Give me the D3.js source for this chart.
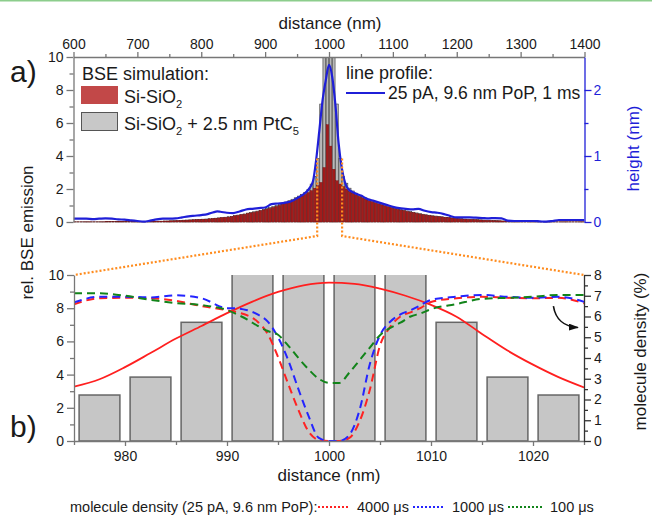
<!DOCTYPE html>
<html>
<head>
<meta charset="utf-8">
<script src="https://cdn.jsdelivr.net/npm/d3@7"></script>
<style>
  html, body { margin: 0; padding: 0; background: #fff; }
  svg { display: block; }
</style>
</head>
<body>
<svg id="chart" width="652" height="517"></svg>
<script>
// ---------- data ----------
// BSE simulation, 5 nm bins from 600 to 1400 nm (bin centres 602.5 ... 1397.5)
const binStart = 600, binEnd = 1400, binStep = 5;

// relative BSE emission, Si-SiO2
const bseSiO2 = [
  0.01,0.01,0.01,0.01,0.01,0.01,0.01,0.01,0.01,0.01,
  0.02,0.02,0.02,0.02,0.02,0.02,0.02,0.02,0.03,0.03,
  0.03,0.03,0.03,0.04,0.04,0.04,0.05,0.05,0.06,0.06,
  0.07,0.07,0.08,0.09,0.10,0.11,0.12,0.13,0.14,0.15,
  0.16,0.17,0.19,0.20,0.22,0.24,0.26,0.28,0.30,0.32,
  0.37,0.40,0.44,0.47,0.51,0.55,0.59,0.63,0.68,0.73,
  0.78,0.83,0.89,0.95,1.01,1.08,1.15,1.23,1.31,1.40,
  1.49,1.58,1.68,1.79,1.90,2.05,2.20,2.40,3.30,5.90,
  4.60,3.20,2.50,2.30,2.15,2.00,1.85,1.75,1.65,1.55,
  1.47,1.39,1.31,1.24,1.17,1.10,1.04,0.98,0.92,0.87,
  0.82,0.77,0.72,0.68,0.64,0.60,0.56,0.52,0.48,0.45,
  0.42,0.39,0.36,0.34,0.32,0.30,0.28,0.26,0.24,0.22,
  0.20,0.19,0.17,0.16,0.15,0.14,0.13,0.12,0.11,0.10,
  0.09,0.08,0.07,0.07,0.06,0.05,0.05,0.04,0.04,0.03,
  0.03,0.03,0.03,0.02,0.02,0.02,0.02,0.02,0.02,0.02,
  0.01,0.01,0.01,0.01,0.01,0.01,0.01,0.01,0.01,0.01
];

// relative BSE emission, Si-SiO2 + 2.5 nm PtC5
const bsePtC = [
  0.01,0.01,0.01,0.01,0.01,0.01,0.01,0.01,0.01,0.01,
  0.02,0.02,0.02,0.02,0.02,0.02,0.02,0.02,0.03,0.03,
  0.03,0.03,0.03,0.04,0.04,0.04,0.05,0.05,0.06,0.06,
  0.07,0.08,0.09,0.10,0.11,0.12,0.13,0.14,0.15,0.16,
  0.17,0.18,0.20,0.21,0.23,0.25,0.27,0.29,0.32,0.34,
  0.39,0.42,0.46,0.49,0.54,0.58,0.62,0.66,0.71,0.77,
  0.82,0.87,0.93,1.00,1.06,1.13,1.21,1.29,1.38,1.47,
  1.57,1.68,1.80,1.98,2.30,2.77,3.85,7.15,15.0,22.0,
  22.0,15.0,7.15,3.85,2.77,2.35,2.05,1.88,1.75,1.63,
  1.54,1.46,1.38,1.30,1.23,1.16,1.09,1.03,0.97,0.91,
  0.86,0.81,0.76,0.71,0.67,0.63,0.59,0.55,0.51,0.47,
  0.44,0.41,0.38,0.36,0.34,0.32,0.29,0.27,0.25,0.23,
  0.21,0.20,0.18,0.17,0.16,0.15,0.14,0.13,0.12,0.11,
  0.10,0.09,0.08,0.07,0.06,0.06,0.05,0.05,0.04,0.04,
  0.03,0.03,0.03,0.03,0.02,0.02,0.02,0.02,0.02,0.02,
  0.01,0.01,0.01,0.01,0.01,0.01,0.01,0.01,0.01,0.01
];

// measured line profile (25 pA, 9.6 nm PoP, 1 ms): distance (nm) / height (nm)
const profileX = [600,610,620,630,640,650,660,670,680,690,700,710,720,730,740,750,760,770,780,790,
  800,810,820,825,830,840,850,860,870,880,890,900,910,920,930,940,950,960,965,970,
  975,980,985,990,995,1000,1005,1010,1015,1020,1025,1030,1040,1050,1060,1070,1080,1090,1100,1110,
  1120,1130,1140,1150,1160,1170,1180,1190,1200,1210,1220,1230,1240,1250,1260,1270,1280,1290,1300,1310,
  1320,1330,1340,1350,1360,1370,1380,1390,1400];
const profileH = [0.05,0.05,0.05,0.045,0.05,0.055,0.05,0.04,0.035,0.025,0.015,0.005,0.02,0.04,0.05,0.05,0.055,0.07,0.085,0.095,
  0.105,0.12,0.15,0.16,0.155,0.14,0.135,0.16,0.19,0.2,0.21,0.22,0.27,0.28,0.29,0.31,0.36,0.42,0.46,0.52,
  0.62,0.95,1.4,1.85,2.15,2.38,2.2,1.78,1.2,0.82,0.6,0.5,0.44,0.4,0.35,0.32,0.29,0.26,0.23,0.21,
  0.2,0.19,0.2,0.17,0.15,0.14,0.12,0.09,0.07,0.07,0.07,0.065,0.06,0.055,0.06,0.055,0.02,0.015,0.015,0.015,
  0.015,0.01,0.005,0.015,0.03,0.03,0.03,0.03,0.03];

// beam profile in the zoomed window (rel. BSE emission axis)
const beamX = [975,977.5,980,982.5,985,987.5,990,992.5,995,997.5,1000,1002.5,1005,1007.5,1010,1012.5,1015,1017.5,1020,1022.5,1025];
const beamY = [3.27,3.72,4.45,5.3,6.17,6.93,7.7,8.4,8.98,9.38,9.54,9.47,9.18,8.75,8.2,7.49,6.45,5.45,4.6,3.85,3.23];

// molecule density (%) for three dwell times
const densityX = [975,977.5,980,982.5,985,987.5,990,991,992,993,994,995,996,997,998,999,1000,
  1001,1002,1003,1004,1005,1006,1007,1008,1009,1010,1012.5,1015,1017.5,1020,1022.5,1025];
const density4000 = [6.59,6.88,6.9,6.88,6.75,6.5,6.3,6.2,6.05,5.75,5.15,4.05,2.75,1.5,0.45,0.05,0,
  0,0.15,0.95,2.46,4.6,5.5,6.0,6.2,6.42,6.7,6.88,6.95,6.9,6.88,6.9,6.64];
const density1000 = [6.68,6.95,6.95,6.92,7.02,6.88,6.4,6.39,6.3,6.1,5.75,5.0,3.9,2.5,1.2,0.15,0,
  0,0.3,1.5,3.7,5.1,5.75,6.1,6.3,6.55,6.8,6.95,7.04,6.95,6.9,6.95,6.71];
const density100 = [7.12,7.12,7.0,6.8,6.65,6.55,6.31,6.1,5.85,5.55,5.3,5.12,4.6,4.0,3.45,3.0,2.8,
  2.8,3.3,3.9,4.5,5.1,5.45,5.7,6.0,6.15,6.35,6.6,6.85,6.9,6.95,7.04,7.04];

const densityLabels = ["4000 \u03bcs", "1000 \u03bcs", "100 \u03bcs"];

// tick values
const topTicksMajor = [600,700,800,900,1000,1100,1200,1300,1400];
const topTicksMinor = [650,750,850,950,1050,1150,1250,1350];
const bseTicksMajor = [0,2,4,6,8,10];
const bseTicksMinor = [1,3,5,7,9];
const heightTicksMajor = [0,1,2];
const heightTicksMinor = [0.5,1.5];
const zoomTicksMajor = [980,990,1000,1010,1020];
const zoomTicksMinor = [975,985,995,1005,1015,1025];
const densTicksMajor = [0,1,2,3,4,5,6,7,8];
const densTicksMinor = [0.5,1.5,2.5,3.5,4.5,5.5,6.5,7.5];

// ---------- drawing ----------
const FONT = '"Liberation Sans", Arial, Helvetica, sans-serif';
const TXT = "#1a1a1a";
const AXIS = "#777";
const BLUE = "#1f1fd8";
const ORANGE = "#ff8c1e";

const svg = d3.select("#chart").attr("font-family", FONT);
svg.append("rect").attr("width", 652).attr("height", 517).attr("fill", "#fff");
svg.append("rect").attr("width", 652).attr("height", 1.5).attr("fill", "#8ccd8c");

const PA = {l: 73.5, r: 584.5, t: 57, b: 222};
const PB = {l: 74, r: 584, t: 275, b: 441};

const xA = d3.scaleLinear().domain([binStart, binEnd]).range([PA.l, PA.r]);
const yA = d3.scaleLinear().domain([0, 10]).range([PA.b, PA.t]);
const hA = d3.scaleLinear().domain([0, 2.5]).range([PA.b, PA.t]);
const xB = d3.scaleLinear().domain([975, 1025]).range([PB.l, PB.r]);
const yB = d3.scaleLinear().domain([0, 10]).range([PB.b, PB.t]);
const dB = d3.scaleLinear().domain([0, 8]).range([PB.b, PB.t]);

const defs = svg.append("defs");
defs.append("clipPath").attr("id", "clipA").append("rect")
  .attr("x", PA.l).attr("y", PA.t).attr("width", PA.r - PA.l).attr("height", PA.b - PA.t + 1);
defs.append("clipPath").attr("id", "clipB").append("rect")
  .attr("x", PB.l).attr("y", PB.t).attr("width", PB.r - PB.l).attr("height", PB.b - PB.t + 1);
defs.append("marker").attr("id", "arrowHead")
  .attr("viewBox", "0 0 10 7").attr("refX", 9).attr("refY", 3.5)
  .attr("markerWidth", 10).attr("markerHeight", 7)
  .attr("markerUnits", "userSpaceOnUse").attr("orient", "auto")
  .append("path").attr("d", "M0,0 L10,3.5 L0,7 z").attr("fill", "#111");

const bins = d3.range(binStart + binStep / 2, binEnd, binStep).map((c, i) => ({
  c, sio2: bseSiO2[i], ptc: bsePtC[i]
}));
const barHalf = 2; // bars are 4 nm wide inside 5 nm bins

// ---- panel a) ----
const gA = svg.append("g").attr("clip-path", "url(#clipA)");
gA.selectAll("rect.ptc").data(bins).join("rect").attr("class", "ptc")
  .attr("x", d => xA(d.c - barHalf)).attr("width", d => xA(d.c + barHalf) - xA(d.c - barHalf))
  .attr("y", d => yA(d.ptc)).attr("height", d => yA(0) - yA(d.ptc))
  .attr("fill", "#b9b9b9").attr("stroke", "#3a3a3a").attr("stroke-width", 0.6);
gA.selectAll("rect.sio2").data(bins).join("rect").attr("class", "sio2")
  .attr("x", d => xA(d.c - barHalf)).attr("width", d => xA(d.c + barHalf) - xA(d.c - barHalf))
  .attr("y", d => yA(d.sio2)).attr("height", d => yA(0) - yA(d.sio2))
  .attr("fill", "#a21c1c").attr("stroke", "#7a0e0e").attr("stroke-width", 0.4);

const profileLine = d3.line().x(d => xA(d[0])).y(d => hA(d[1])).curve(d3.curveMonotoneX);
gA.append("path").datum(profileX.map((x, i) => [x, profileH[i]]))
  .attr("d", profileLine).attr("fill", "none").attr("stroke", BLUE).attr("stroke-width", 2.2);

// axes helpers
function styleAxis(g, lineColor, textColor) {
  g.attr("font-family", FONT).attr("font-size", 14);
  g.selectAll(".domain").attr("stroke", lineColor).attr("stroke-width", 1.3);
  g.selectAll(".tick line").attr("stroke", lineColor).attr("stroke-width", 1.3);
  g.selectAll(".tick text").attr("fill", textColor);
}
function drawAxis(transform, axis, lineColor, textColor, keepDomain) {
  const g = svg.append("g").attr("transform", transform).call(axis);
  if (!keepDomain) g.select(".domain").remove();
  styleAxis(g, lineColor, textColor);
  return g;
}

// panel a axes
drawAxis(`translate(${PA.l},0)`, d3.axisLeft(yA).tickValues(bseTicksMajor).tickSize(7).tickSizeOuter(0).tickPadding(3), AXIS, TXT, true);
drawAxis(`translate(${PA.l},0)`, d3.axisLeft(yA).tickValues(bseTicksMinor).tickSize(4).tickFormat(""), AXIS, TXT, false);
drawAxis(`translate(0,${PA.t})`, d3.axisTop(xA).tickValues(topTicksMajor).tickSize(5).tickSizeOuter(0).tickPadding(3).tickFormat(d3.format("d")), AXIS, TXT, true);
drawAxis(`translate(0,${PA.t})`, d3.axisTop(xA).tickValues(topTicksMinor).tickSize(3).tickFormat(""), AXIS, TXT, false);
drawAxis(`translate(${PA.r},0)`, d3.axisRight(hA).tickValues(heightTicksMajor).tickSize(7).tickSizeOuter(0).tickPadding(2).tickFormat(d3.format("d")), BLUE, BLUE, true);
drawAxis(`translate(${PA.r},0)`, d3.axisRight(hA).tickValues(heightTicksMinor).tickSize(4).tickFormat(""), BLUE, BLUE, false);

// rich text with subscripts
function richText(x, y, parts, size, color) {
  const t = svg.append("text").attr("x", x).attr("y", y).attr("font-size", size).attr("fill", color || TXT);
  let shift = 0;
  parts.forEach(p => {
    const isSub = typeof p !== "string";
    const target = isSub ? size * 0.3 : 0;
    t.append("tspan").attr("dy", target - shift)
      .attr("font-size", isSub ? size * 0.62 : size).text(isSub ? p.sub : p);
    shift = target;
  });
  return t;
}

// panel a legends
svg.append("text").attr("x", 82).attr("y", 80).attr("font-size", 18).attr("fill", TXT).text("BSE simulation:");
svg.append("rect").attr("x", 81).attr("y", 86).attr("width", 37).attr("height", 18).attr("fill", "#c24848");
richText(124, 103, ["Si-SiO", {sub: "2"}], 18);
svg.append("rect").attr("x", 81.5).attr("y", 112.5).attr("width", 36).attr("height", 18).attr("fill", "#c8c8c8").attr("stroke", "#555").attr("stroke-width", 1);
richText(124, 130, ["Si-SiO", {sub: "2"}, " + 2.5 nm PtC", {sub: "5"}], 18);

svg.append("text").attr("x", 346).attr("y", 79).attr("font-size", 18).attr("fill", TXT).text("line profile:");
svg.append("line").attr("x1", 346).attr("x2", 385).attr("y1", 93).attr("y2", 93).attr("stroke", BLUE).attr("stroke-width", 2.2);
svg.append("text").attr("x", 388).attr("y", 99).attr("font-size", 17.5).attr("fill", TXT).text("25 pA, 9.6 nm PoP, 1 ms");

// axis titles panel a
svg.append("text").attr("x", 330).attr("y", 29).attr("text-anchor", "middle").attr("font-size", 17).attr("fill", TXT).text("distance (nm)");
svg.append("text").attr("transform", "translate(639,148.5) rotate(-90)").attr("text-anchor", "middle")
  .attr("font-size", 17).attr("fill", BLUE).text("height (nm)");
svg.append("text").attr("x", 10).attr("y", 82).attr("font-size", 30).attr("fill", TXT).text("a)");

// ---- panel b) ----
const gB = svg.append("g").attr("clip-path", "url(#clipB)");
const zoomBins = bins.filter(d => d.c > 975 && d.c < 1025);
gB.selectAll("rect.zb").data(zoomBins).join("rect").attr("class", "zb")
  .attr("x", d => xB(d.c - barHalf)).attr("width", d => xB(d.c + barHalf) - xB(d.c - barHalf))
  .attr("y", d => yB(d.ptc)).attr("height", d => yB(0) - yB(d.ptc))
  .attr("fill", "#c6c6c6").attr("stroke", "#666").attr("stroke-width", 1.5);

gB.append("path").datum(beamX.map((x, i) => [x, beamY[i]]))
  .attr("d", d3.line().x(d => xB(d[0])).y(d => yB(d[1])).curve(d3.curveMonotoneX))
  .attr("fill", "none").attr("stroke", "#ff1f1f").attr("stroke-width", 1.8);

const densSeries = [
  {vals: density4000, color: "#ff2222"},
  {vals: density1000, color: "#2424ff"},
  {vals: density100, color: "#12841a"}
];
const densLine = d3.line().x(d => xB(d[0])).y(d => dB(d[1])).curve(d3.curveMonotoneX);
densSeries.forEach(s => {
  gB.append("path").datum(densityX.map((x, i) => [x, s.vals[i]]))
    .attr("d", densLine).attr("fill", "none").attr("stroke", s.color)
    .attr("stroke-width", 2).attr("stroke-dasharray", "8 5");
});

// panel b axes
drawAxis(`translate(${PB.l},0)`, d3.axisLeft(yB).tickValues(bseTicksMajor).tickSize(7).tickSizeOuter(0).tickPadding(3), AXIS, TXT, true);
drawAxis(`translate(${PB.l},0)`, d3.axisLeft(yB).tickValues(bseTicksMinor).tickSize(4).tickFormat(""), AXIS, TXT, false);
drawAxis(`translate(0,${PB.b})`, d3.axisBottom(xB).tickValues(zoomTicksMajor).tickSize(5).tickSizeOuter(0).tickPadding(5).tickFormat(d3.format("d")), AXIS, TXT, true);
drawAxis(`translate(0,${PB.b})`, d3.axisBottom(xB).tickValues(zoomTicksMinor).tickSize(4).tickFormat(""), AXIS, TXT, false);
drawAxis(`translate(${PB.r},0)`, d3.axisRight(dB).tickValues(densTicksMajor).tickSize(7).tickSizeOuter(0).tickPadding(3).tickFormat(d3.format("d")), "#333", TXT, true);
drawAxis(`translate(${PB.r},0)`, d3.axisRight(dB).tickValues(densTicksMinor).tickSize(4).tickFormat(""), "#333", TXT, false);

svg.append("text").attr("x", (PB.l + PB.r) / 2).attr("y", 481).attr("text-anchor", "middle").attr("font-size", 17).attr("fill", TXT).text("distance (nm)");
svg.append("text").attr("transform", "translate(646,351.5) rotate(-90)").attr("text-anchor", "middle")
  .attr("font-size", 17).attr("fill", TXT).text("molecule density (%)");
svg.append("text").attr("transform", "translate(33,232.5) rotate(-90)").attr("text-anchor", "middle")
  .attr("font-size", 17).attr("fill", TXT).text("rel. BSE emission");
svg.append("text").attr("x", 10).attr("y", 437).attr("font-size", 30).attr("fill", TXT).text("b)");

// arrow pointing at the molecule density axis
svg.append("path")
  .attr("d", `M${xB(1022)},${dB(6.5)} C${xB(1022.2)},${dB(5.9)} ${xB(1023)},${dB(5.5)} ${xB(1024.4)},${dB(5.47)}`)
  .attr("fill", "none").attr("stroke", "#111").attr("stroke-width", 1.6).attr("marker-end", "url(#arrowHead)");

// callout connecting the zoomed window in a) to panel b)
const calloutX = [981.5, 1020.5];
const calloutLevel = 3.85;
const calloutBend = PA.b + 14;
[[calloutX[0], PB.l], [calloutX[1], PB.r]].forEach(([xv, xEnd]) => {
  svg.append("path")
    .attr("d", `M${xA(xv)},${yA(calloutLevel)} V${calloutBend} L${xEnd},${PB.t}`)
    .attr("fill", "none").attr("stroke", ORANGE).attr("stroke-width", 2.2).attr("stroke-dasharray", "2 2");
});

// bottom legend for molecule density
svg.append("text").attr("x", 70).attr("y", 512).attr("font-size", 14.5).attr("fill", TXT).text("molecule density (25 pA, 9.6 nm PoP):");
const legendPos = [{x1: 318, x2: 350, tx: 357}, {x1: 413, x2: 445, tx: 452}, {x1: 508, x2: 542, tx: 550}];
densSeries.forEach((s, i) => {
  const p = legendPos[i];
  svg.append("line").attr("x1", p.x1).attr("x2", p.x2).attr("y1", 507).attr("y2", 507)
    .attr("stroke", s.color).attr("stroke-width", 2.2).attr("stroke-dasharray", "2 2");
  svg.append("text").attr("x", p.tx).attr("y", 512).attr("font-size", 14.5).attr("fill", TXT).text(densityLabels[i]);
});
</script>
</body>
</html>
